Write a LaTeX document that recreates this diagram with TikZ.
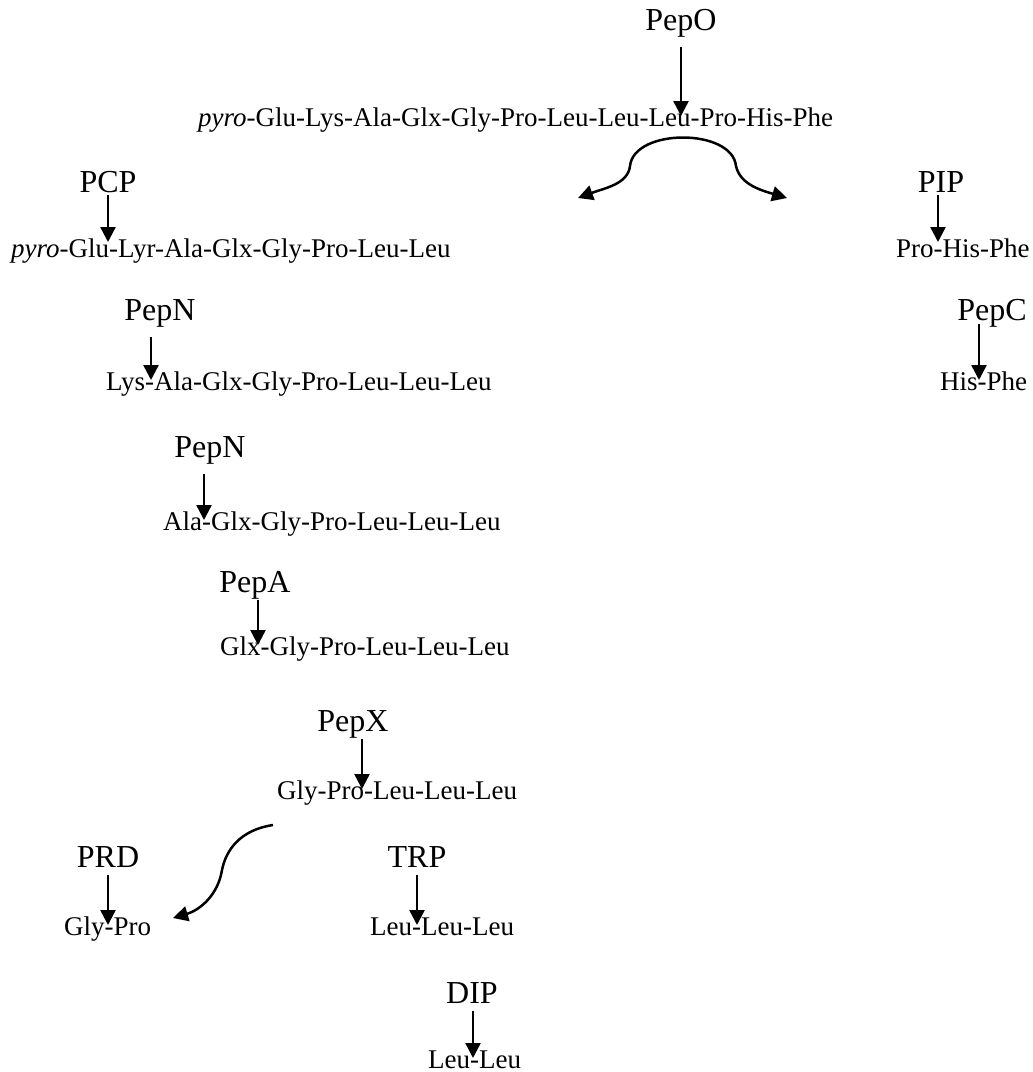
\documentclass[tikz,border=0pt]{standalone}
\usepackage{fontspec}
\setmainfont{Liberation Serif}
\usetikzlibrary{arrows.meta}
\tikzset{
  enz/.style  = {font=\fontsize{32}{36}\selectfont, inner sep=0pt, anchor=base},
  pep/.style  = {font=\fontsize{27}{30}\selectfont, inner sep=0pt, anchor=base west},
  cut/.style  = {-{Triangle[length=15pt, width=15pt]}, line width=2.5pt,
                 shorten <=17pt, shorten >=10pt},
  near/.style = {shorten <=8pt},
  flow/.style = {line width=2.5pt},
}
\begin{document}
\begin{tikzpicture}[x=1pt, y=-1pt]
  \useasboundingbox (0,0) rectangle (1033,1072);
  % whole peptide and PepO
  \node[enz] (pepo) at (681,30) {PepO};
  \node[pep] (full) at (198,126) {\textit{pyro}-Glu-Lys-Ala-Glx-Gly-Pro-Leu-Leu-Leu-Pro-His-Phe};
  \draw[cut] (pepo.base) -- (pepo.base |- full.base);
  \coordinate (splitl) at (578,198);
  \coordinate (splitr) at (787,198);
  \draw[flow, {Triangle[length=15pt, width=15pt]}-{Triangle[length=15pt, width=15pt]}]
    (splitl) .. controls (605,188) and (628,184) .. (630,166)
    .. controls (634,128) and (732,128) .. (736,166)
    .. controls (740,184) and (760,190) .. (splitr);
  % N-terminal branch
  \node[enz] (pcp) at (108,192) {PCP};
  \node[pep] (nine) at (11,257) {\textit{pyro}-Glu-Lyr-Ala-Glx-Gly-Pro-Leu-Leu};
  \draw[cut, shorten <=3pt, shorten >=15pt] (pcp.base) -- (pcp.base |- nine.base);
  \node[enz] (pepn) at (160,320) {PepN};
  \node[pep] (eight) at (106,390) {Lys-Ala-Glx-Gly-Pro-Leu-Leu-Leu};
  \draw[cut] ([xshift=-9pt]pepn.base) -- ([xshift=-9pt]pepn.base |- eight.base);
  \node[enz] (pepnb) at (210,457) {PepN};
  \node[pep] (seven) at (163,530) {Ala-Glx-Gly-Pro-Leu-Leu-Leu};
  \draw[cut] ([xshift=-6pt]pepnb.base) -- ([xshift=-6pt]pepnb.base |- seven.base);
  \node[enz] (pepa) at (255,592) {PepA};
  \node[pep] (six) at (220,655) {Glx-Gly-Pro-Leu-Leu-Leu};
  \draw[cut, near] ([xshift=3pt]pepa.base) -- ([xshift=3pt]pepa.base |- six.base);
  \node[enz] (pepx) at (353,731) {PepX};
  \node[pep] (five) at (277,799) {Gly-Pro-Leu-Leu-Leu};
  \draw[cut, near] ([xshift=9pt]pepx.base) -- ([xshift=9pt]pepx.base |- five.base);
  \node[enz] (prd) at (108,867) {PRD};
  \node[pep] (glypro) at (64,935) {Gly-Pro};
  \draw[cut, near] (prd.base) -- (prd.base |- glypro.base);
  \coordinate (splitg) at (273,825);
  \draw[flow, -{Triangle[length=15pt, width=15pt]}]
    (splitg) .. controls (240,830) and (226,850) .. (222,870)
    .. controls (218,895) and (200,910) .. (173,918);
  \node[enz] (trp) at (417,867) {TRP};
  \node[pep] (three) at (370,935) {Leu-Leu-Leu};
  \draw[cut, near] (trp.base) -- (trp.base |- three.base);
  \node[enz] (dip) at (472,1003) {DIP};
  \node[pep] (two) at (428,1068) {Leu-Leu};
  \draw[cut, near] ([xshift=1pt]dip.base) -- ([xshift=1pt]dip.base |- two.base);
  % C-terminal branch
  \node[enz] (pip) at (941,192) {PIP};
  \node[pep] (tri) at (896,257) {Pro-His-Phe};
  \draw[cut, shorten <=3pt, shorten >=15pt] ([xshift=-3pt]pip.base) -- ([xshift=-3pt]pip.base |- tri.base);
  \node[enz] (pepc) at (992,320) {PepC};
  \node[pep] (di) at (940,390) {His-Phe};
  \draw[cut, shorten <=4pt] ([xshift=-13pt]pepc.base) -- ([xshift=-13pt]pepc.base |- di.base);
\end{tikzpicture}
\end{document}
